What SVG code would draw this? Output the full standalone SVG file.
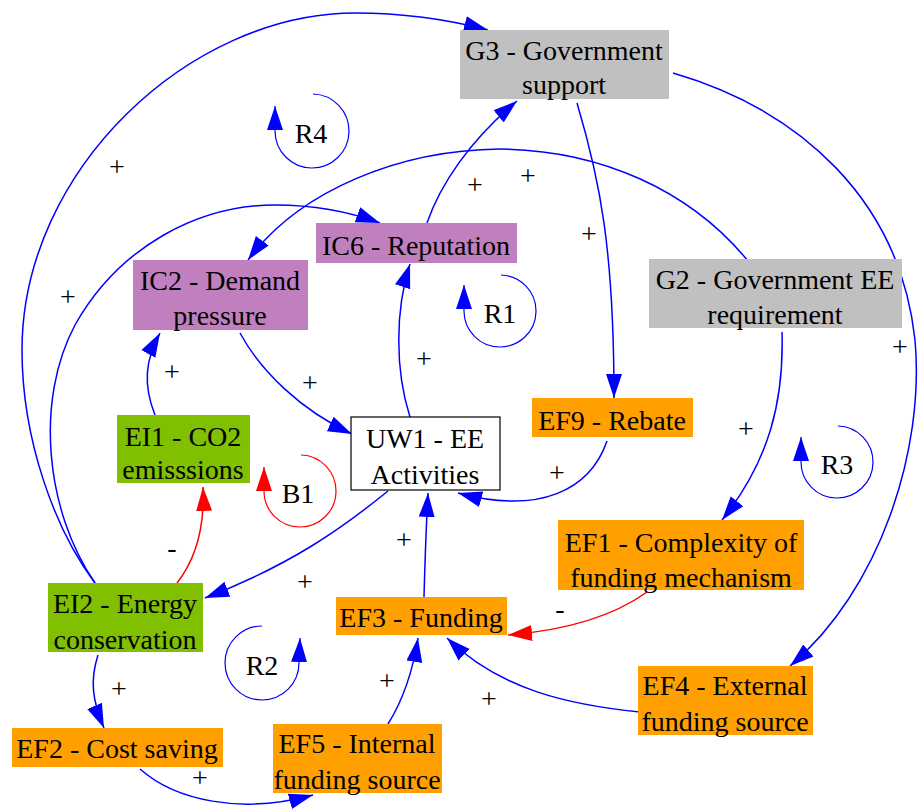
<svg xmlns="http://www.w3.org/2000/svg" width="919" height="810" viewBox="0 0 919 810" font-family="'Liberation Serif', 'DejaVu Serif', serif">
  <style>
    text { font-family: 'Liberation Serif', 'DejaVu Serif', serif; font-size: 28px; fill: #000; text-anchor: middle; }
    .link { fill: none; stroke: #0000ff; stroke-width: 1.5; marker-end: url(#arrowBlue); }
    .link.neg { stroke: #ff0000; marker-end: url(#arrowRed); }
    .loop { fill: none; stroke: #0000ff; stroke-width: 1.2; marker-end: url(#arrowBlue); }
    .loop.bal { stroke: #ff0000; marker-end: url(#arrowRed); }
    .gov { fill: #c0c0c0; }
    .ic { fill: #c080c0; }
    .env { fill: #80c000; }
    .fin { fill: #ffa000; }
    .core { fill: #ffffff; stroke: #000; stroke-width: 1.2; }
  </style>
  <defs>
    <marker id="arrowBlue" markerUnits="userSpaceOnUse" markerWidth="26" markerHeight="18" refX="24" refY="8" orient="auto">
      <path d="M0,0 L24,8 L0,16 Z" fill="#0000ff"/>
    </marker>
    <marker id="arrowRed" markerUnits="userSpaceOnUse" markerWidth="26" markerHeight="18" refX="24" refY="8" orient="auto">
      <path d="M0,0 L24,8 L0,16 Z" fill="#ff0000"/>
    </marker>
  </defs>

  <rect width="919" height="810" fill="#ffffff"/>

  <!-- causal links -->
  <g id="connectors">
    <path class="link" d="M95,583 C55,530 22,440 22,350 C22,170 190,13 355,13 C405,13 450,20 488,30"/>
    <path class="link" d="M95,583 C45,510 35,400 75,325 C120,245 200,205 275,205 C315,205 350,212 380,223"/>
    <path class="link" d="M748,261 C690,190 600,150 500,149 C400,150 300,190 248,260"/>
    <path class="link" d="M577,103 C600,180 614,250 614,398"/>
    <path class="link" d="M673,73 C800,110 900,200 915,340 C925,450 880,590 790,666"/>
    <path class="link" d="M427,223 C440,185 470,140 517,101"/>
    <path class="link" d="M410,417 C395,370 395,310 410,264"/>
    <path class="link" d="M240,333 C260,370 300,410 352,434"/>
    <path class="link" d="M155,415 C143,385 145,360 160,333"/>
    <path class="link" d="M607,441 C590,490 540,515 458,493"/>
    <path class="link" d="M424,597 C425,560 426,530 428,493"/>
    <path class="link" d="M388,491 C340,530 290,565 205,598"/>
    <path class="link neg" d="M177,583 C195,560 205,530 203,487"/>
    <path class="link neg" d="M647,592 C615,615 570,630 508,635"/>
    <path class="link" d="M640,712 C570,705 500,690 447,638"/>
    <path class="link" d="M782,332 C784,400 770,460 722,520"/>
    <path class="link" d="M98,655 C90,680 92,700 104,728"/>
    <path class="link" d="M140,769 C175,800 240,815 313,795"/>
    <path class="link" d="M388,724 C403,700 413,670 418,638"/>

    <!-- link polarities -->
    <text x="117" y="176">+</text>
    <text x="68" y="306">+</text>
    <text x="475" y="194">+</text>
    <text x="528" y="185">+</text>
    <text x="589" y="243">+</text>
    <text x="424" y="368">+</text>
    <text x="310" y="392">+</text>
    <text x="172" y="381">+</text>
    <text x="557" y="482">+</text>
    <text x="746" y="438">+</text>
    <text x="900" y="356">+</text>
    <text x="404" y="549">+</text>
    <text x="305" y="591">+</text>
    <text x="119" y="698">+</text>
    <text x="200" y="787">+</text>
    <text x="387" y="690">+</text>
    <text x="489" y="708">+</text>
    <text x="172" y="557">-</text>
    <text x="560" y="618">-</text>
  </g>

  <!-- feedback loop markers -->
  <g id="loop-R4">
    <path class="loop" d="M313,94 A37,37 0 1 1 275,131 L275,106"/>
    <text x="311" y="143">R4</text>
  </g>
  <g id="loop-R1">
    <path class="loop" d="M501,275 A36,36 0 1 1 464,311 L464,285"/>
    <text x="500" y="323">R1</text>
  </g>
  <g id="loop-R3">
    <path class="loop" d="M838,426 A36,36 0 1 1 801,462 L801,437"/>
    <text x="837" y="474">R3</text>
  </g>
  <g id="loop-R2">
    <path class="loop" d="M262,626 A37,37 0 1 0 299,663 L300,638"/>
    <text x="262" y="675">R2</text>
  </g>
  <g id="loop-B1">
    <path class="loop bal" d="M301,455 A36,36 0 1 1 264,491 L264,467"/>
    <text x="298" y="503">B1</text>
  </g>

  <!-- variables -->
  <g id="G3">
    <rect class="gov" x="460" y="30" width="209" height="69"/>
    <text x="564" y="60">G3 - Government</text>
    <text x="564" y="94">support</text>
  </g>
  <g id="IC6">
    <rect class="ic" x="316" y="223" width="201" height="40"/>
    <text x="416" y="255">IC6 - Reputation</text>
  </g>
  <g id="IC2">
    <rect class="ic" x="133" y="260" width="175" height="70"/>
    <text x="220" y="290">IC2 - Demand</text>
    <text x="220" y="325">pressure</text>
  </g>
  <g id="G2">
    <rect class="gov" x="649" y="259" width="253" height="69"/>
    <text x="775" y="289">G2 - Government EE</text>
    <text x="775" y="324">requirement</text>
  </g>
  <g id="EI1">
    <rect class="env" x="117" y="415" width="133" height="68"/>
    <text x="183" y="446">EI1 - CO2</text>
    <text x="183" y="479">emisssions</text>
  </g>
  <g id="UW1">
    <rect class="core" x="351" y="417" width="149" height="73"/>
    <text x="425" y="448">UW1 - EE</text>
    <text x="425" y="484">Activities</text>
  </g>
  <g id="EF9">
    <rect class="fin" x="532" y="398" width="161" height="39"/>
    <text x="612" y="430">EF9 - Rebate</text>
  </g>
  <g id="EF1">
    <rect class="fin" x="558" y="520" width="246" height="70"/>
    <text x="681" y="552">EF1 - Complexity of</text>
    <text x="681" y="587">funding mechanism</text>
  </g>
  <g id="EI2">
    <rect class="env" x="48" y="583" width="155" height="69"/>
    <text x="125" y="613">EI2 - Energy</text>
    <text x="125" y="649">conservation</text>
  </g>
  <g id="EF3">
    <rect class="fin" x="336" y="597" width="171" height="38"/>
    <text x="421" y="627">EF3 - Funding</text>
  </g>
  <g id="EF4">
    <rect class="fin" x="638" y="666" width="175" height="69"/>
    <text x="725" y="695">EF4 - External</text>
    <text x="725" y="731">funding source</text>
  </g>
  <g id="EF2">
    <rect class="fin" x="12" y="728" width="211" height="39"/>
    <text x="117" y="758">EF2 - Cost saving</text>
  </g>
  <g id="EF5">
    <rect class="fin" x="273" y="724" width="169" height="69"/>
    <text x="357" y="753">EF5 - Internal</text>
    <text x="357" y="789">funding source</text>
  </g>
</svg>
